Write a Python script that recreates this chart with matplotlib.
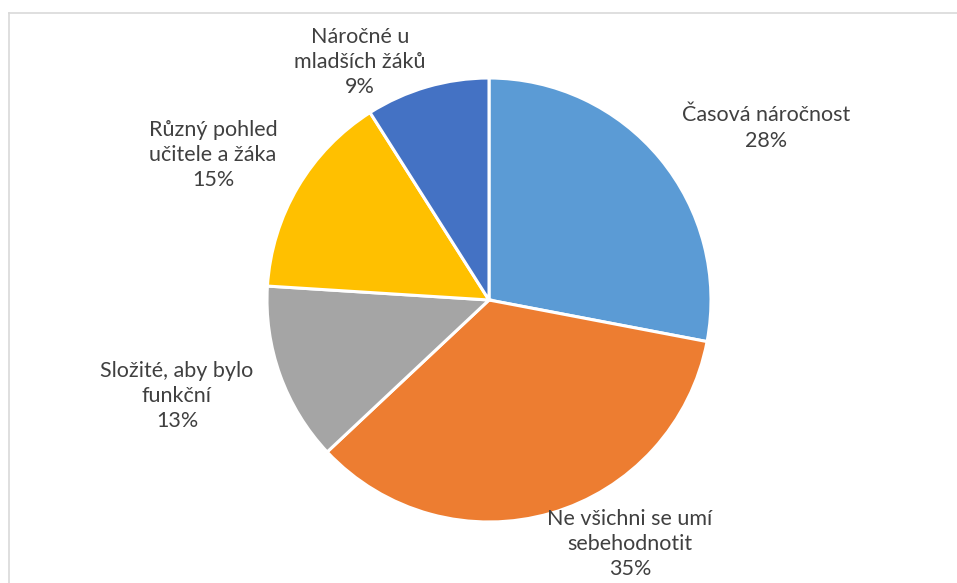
import matplotlib
matplotlib.use("Agg")
import matplotlib.pyplot as plt
from matplotlib.lines import Line2D

categories = ["Časová náročnost", "Ne všichni se umí\nsebehodnotit",
              "Složité, aby bylo\nfunkční", "Různý pohled\nučitele a žáka",
              "Náročné u\nmladších žáků"]
values = [28, 35, 13, 15, 9]
colors = ["#5B9BD5", "#ED7D31", "#A5A5A5", "#FFC000", "#4472C4"]

# label centers in pixel coordinates (x, y from top)
label_pos = [(766, 128), (630, 544), (177, 396), (213, 155), (360, 62)]

W, H = 957, 583
fig = plt.figure(figsize=(W / 100, H / 100), dpi=100)
ax = fig.add_axes([0, 0, 1, 1])

cx, cy, r = 489, 300, 222
ax.pie(values, colors=colors, startangle=90, counterclock=False,
       center=(cx, H - cy), radius=r, frame=False,
       wedgeprops=dict(edgecolor="white", linewidth=2.2))
ax.set_xlim(0, W)
ax.set_ylim(0, H)
ax.set_aspect("equal")
ax.axis("off")

total = sum(values)
for cat, v, (lx, ly) in zip(categories, values, label_pos):
    txt = f"{cat}\n{round(100 * v / total)}%"
    ax.text(lx, H - ly, txt, ha="center", va="center", fontsize=15.5,
            color="#404040", family=["Lato", "DejaVu Sans"], linespacing=1.33)

# chart frame (left and top edges visible)
fig.add_artist(Line2D([8.5 / W, 8.5 / W], [0, 1 - 13 / H], transform=fig.transFigure,
                      color="#D9D9D9", lw=1.2))
fig.add_artist(Line2D([8.5 / W, 1], [1 - 13 / H, 1 - 13 / H], transform=fig.transFigure,
                      color="#D9D9D9", lw=1.2))

fig.savefig("out.png", dpi=100)
